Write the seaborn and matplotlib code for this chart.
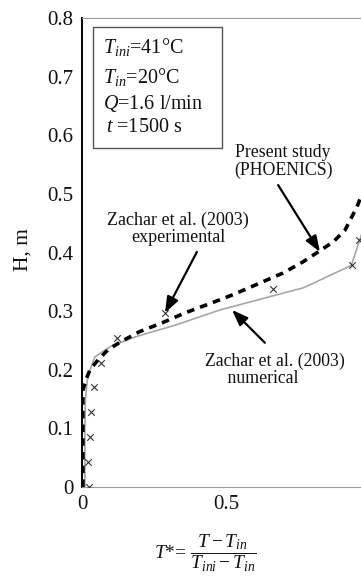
import matplotlib
matplotlib.use("Agg")
import matplotlib.pyplot as plt
from matplotlib.patches import Rectangle
import seaborn as sns
import pandas as pd

# values
# experimental points (Zachar et al. 2003)
exp_T = [0.024, 0.022, 0.027, 0.031, 0.042, 0.065, 0.123, 0.288, 0.664, 0.936, 0.963]
exp_H = [0.0, 0.043, 0.086, 0.128, 0.171, 0.212, 0.255, 0.297, 0.338, 0.378, 0.421]

# numerical (Zachar et al. 2003)
num_T = [0.01, 0.01, 0.012, 0.02, 0.045, 0.1, 0.184, 0.323, 0.479, 0.77, 0.935, 0.97, 1.0]
num_H = [0.0, 0.1, 0.15, 0.19, 0.222, 0.24, 0.256, 0.276, 0.302, 0.34, 0.378, 0.43, 0.47]

# present study (PHOENICS)
ph_T = [0.003, 0.003, 0.016, 0.028, 0.056, 0.09, 0.132, 0.2, 0.278, 0.358, 0.45,
        0.524, 0.618, 0.698, 0.767, 0.82, 0.872, 0.913, 0.955, 0.98, 1.0]
ph_H = [0.0, 0.165, 0.186, 0.2, 0.217, 0.234, 0.247, 0.265, 0.28, 0.297, 0.314,
        0.328, 0.348, 0.365, 0.384, 0.401, 0.418, 0.438, 0.478, 0.51, 0.54]

y_ticks = [0, 0.1, 0.2, 0.3, 0.4, 0.5, 0.6, 0.7, 0.8]
y_labels = ["0", "0.1", "0.2", "0.3", "0.4", "0.5", "0.6", "0.7", "0.8"]
x_ticks = [0, 0.5]
x_labels = ["0", "0.5"]

sns.set_theme(style="white")
plt.rcParams['font.family'] = ['Liberation Serif', 'DejaVu Serif']
plt.rcParams['mathtext.fontset'] = 'custom'
plt.rcParams['mathtext.rm'] = 'Liberation Serif'
plt.rcParams['mathtext.it'] = 'Liberation Serif:italic'

W, H = 361, 580
fig = plt.figure(figsize=(W / 100, H / 100), dpi=100)


def fx(x):
    return x / W


def fy(y):
    return 1 - y / H


# axes run past the right edge of the picture (cropped original)
ax = fig.add_axes([fx(82), fy(487), (370 - 82) / W, (487 - 18) / H])

df_num = pd.DataFrame({"T": num_T, "H": num_H})
df_ph = pd.DataFrame({"T": ph_T, "H": ph_H})
df_exp = pd.DataFrame({"T": exp_T, "H": exp_H})

sns.lineplot(data=df_num, x="T", y="H", sort=False, estimator=None, ax=ax,
             color="#a6a6a6", lw=1.2, zorder=2)
sns.lineplot(data=df_ph, x="T", y="H", sort=False, estimator=None, ax=ax,
             color="black", lw=2.6, zorder=3)
ax.lines[-1].set_dashes((2.1, 1.7))
sns.scatterplot(data=df_exp, x="T", y="H", ax=ax, marker="x", s=22,
                color="#333333", linewidth=0.8, zorder=4)

ax.set_xlim(0, 1)
ax.set_ylim(0, 0.8)
ax.set_xticks(x_ticks)
ax.set_xticklabels(x_labels)
ax.set_yticks(y_ticks)
ax.set_yticklabels(y_labels)
ax.tick_params(direction="in", length=3, width=0.6, color="#999999",
               labelsize=15, labelcolor="#111111", pad=6)
ax.set_xlabel("")
ax.set_ylabel("")
for side in ["top", "right", "bottom"]:
    ax.spines[side].set_color("#9a9a9a")
    ax.spines[side].set_linewidth(0.8)
ax.spines["left"].set_color("black")
ax.spines["left"].set_linewidth(1.4)

# parameter box
fig.patches.append(Rectangle((fx(93), fy(148)), (222 - 93) / W, (148 - 27) / H,
                             transform=fig.transFigure, fill=False,
                             edgecolor="#555555", lw=1.0))
box_lines = [(103, 53, r"$T_{ini}$=41°C"),
             (103, 83, r"$T_{in}$=20°C"),
             (103, 109, r"$Q$=1.6 l/min"),
             (106, 132, r"$t$ =1500 s")]
for x, y, s in box_lines:
    fig.text(fx(x), fy(y), s, fontsize=14.5, va="baseline", ha="left",
             color="#111111")

# annotations: arrows and their labels
arrow = dict(arrowstyle="-|>,head_length=0.8,head_width=0.3", color="black",
             lw=1.6, shrinkA=0, shrinkB=0)
ax.annotate("", xy=(0.826, 0.401), xytext=(0.681, 0.515), arrowprops=arrow)
ax.annotate("", xy=(0.288, 0.297), xytext=(0.399, 0.401), arrowprops=arrow)
ax.annotate("", xy=(0.521, 0.302), xytext=(0.635, 0.246), arrowprops=arrow)

ax.text(0.698, 0.555, "Present study\n(PHOENICS)", fontsize=12.8,
        ha="center", va="center", linespacing=1.05, color="#111111")
ax.text(0.334, 0.44, "Zachar et al. (2003)\nexperimental", fontsize=13,
        ha="center", va="center", linespacing=1.0, color="#111111")
ax.text(0.427, 0.2, "Zachar et al. (2003)\n     numerical", fontsize=12.8,
        ha="left", va="center", linespacing=1.0, color="#111111")

fig.text(fx(23), fy(250), "H, m", rotation=90, fontsize=15.5, ha="center",
         va="center", color="#111111")
fig.text(fx(205), fy(553), r"$T$*= $\dfrac{T - T_{in}}{T_{ini} - T_{in}}$",
         fontsize=14, ha="center", va="center", color="#111111")

fig.savefig("out.png", dpi=100)
